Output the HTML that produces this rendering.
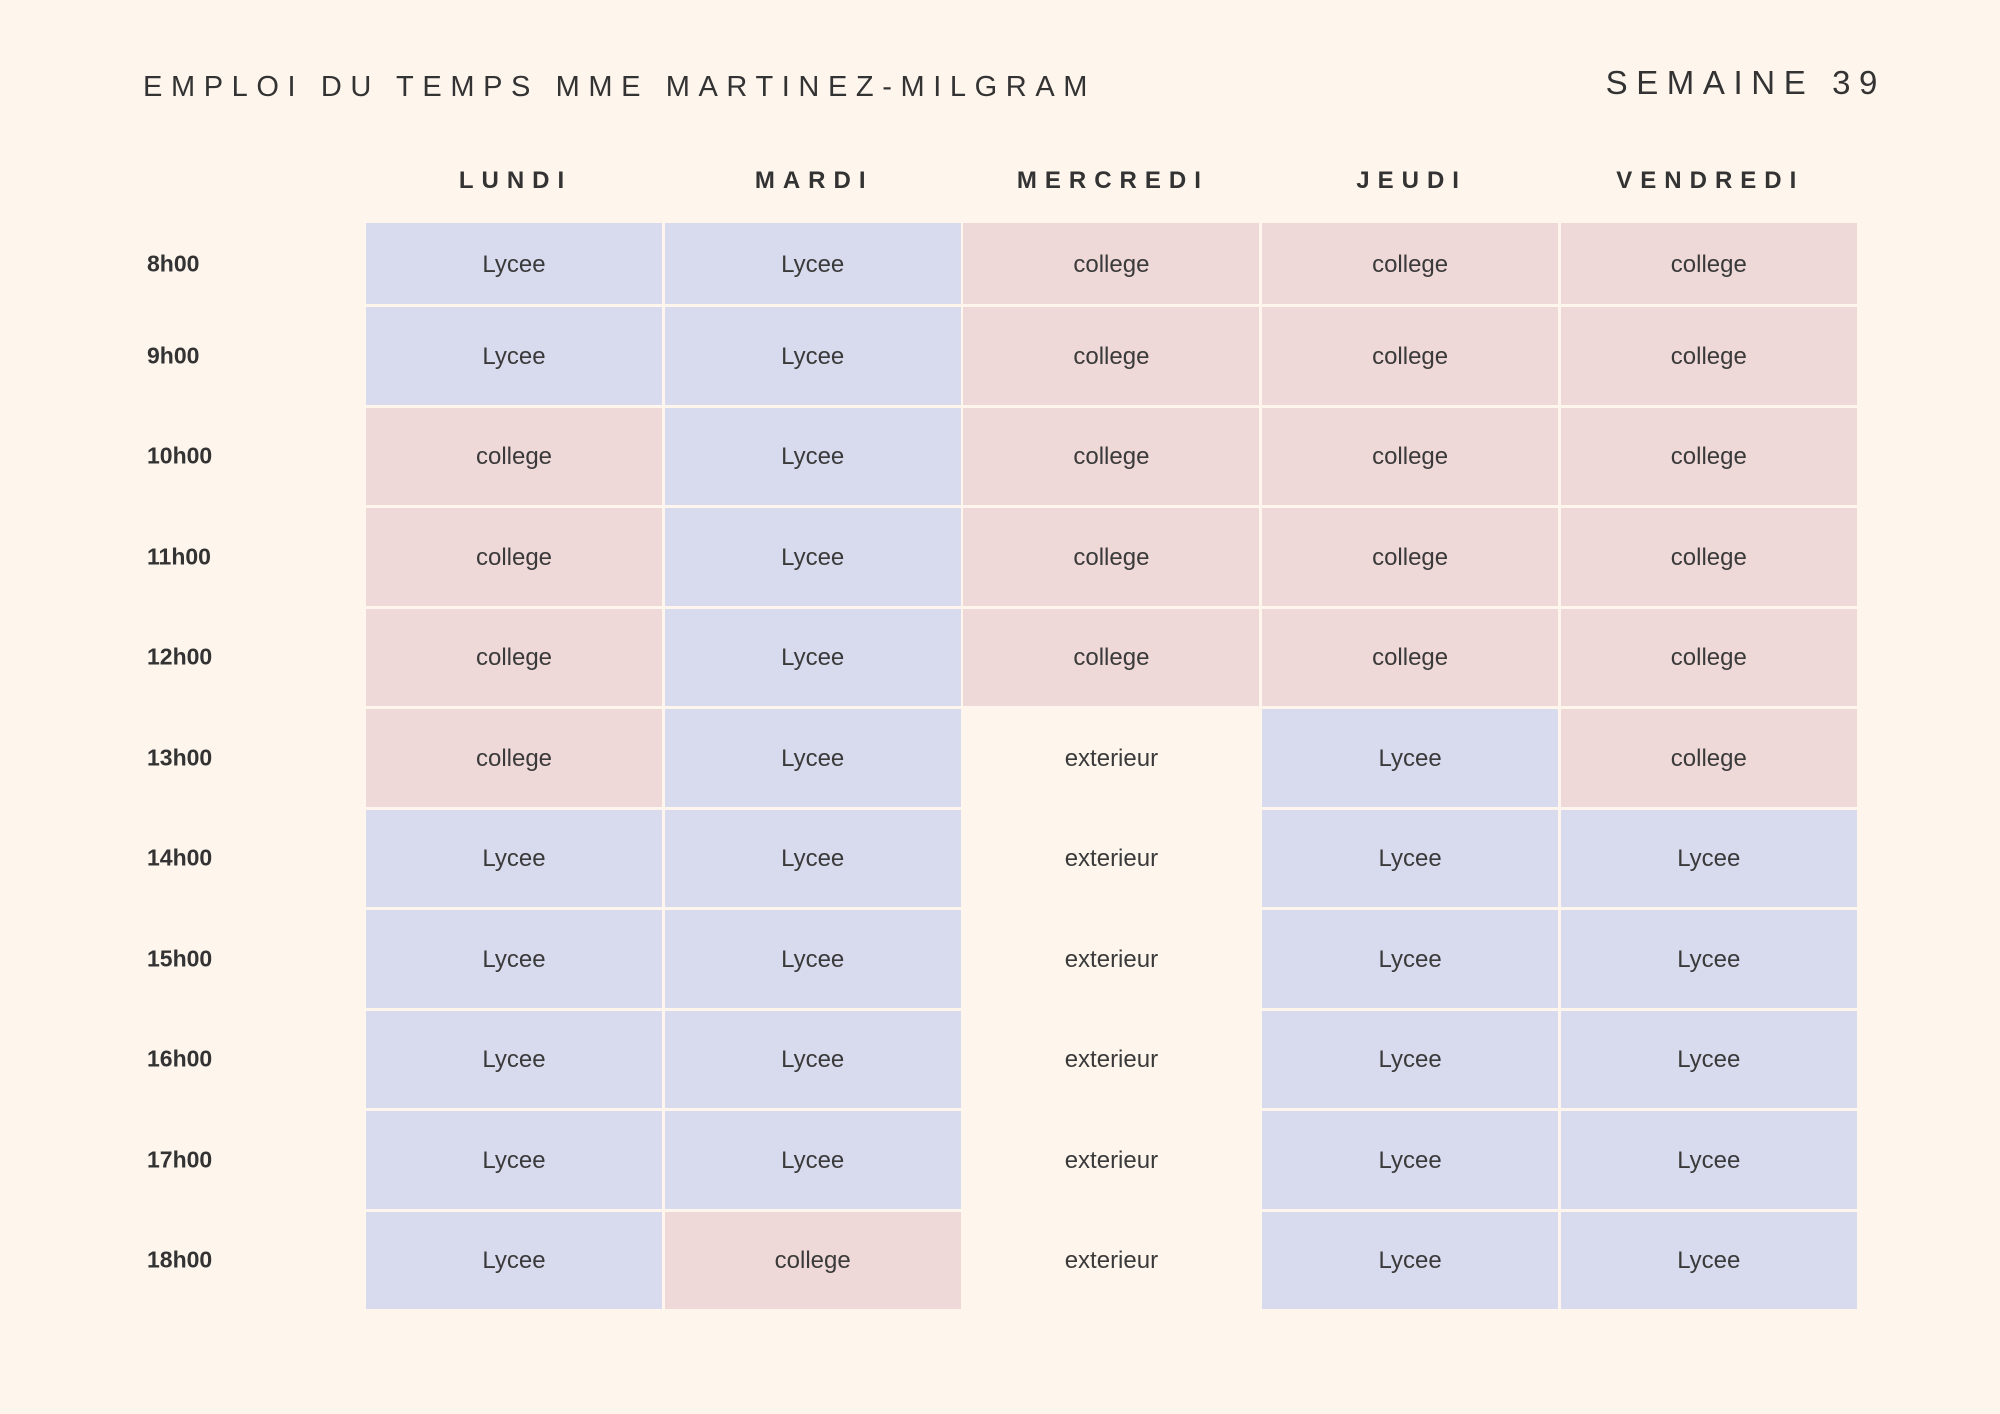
<!DOCTYPE html>
<html><head><meta charset="utf-8"><style>
*{margin:0;padding:0;box-sizing:border-box}
body{width:2000px;height:1414px;background:#fef5ed;position:relative;font-family:"Liberation Sans",sans-serif;color:#333;overflow:hidden}
.t{position:absolute;white-space:nowrap}
.title{left:143px;top:71px;font-size:29px;letter-spacing:8.6px}
.sem{right:114px;top:64px;font-size:33px;letter-spacing:8.6px}
.day{position:absolute;top:167px;width:299px;text-align:center;font-weight:bold;font-size:24px;letter-spacing:8px}
.time{position:absolute;left:147px;font-weight:bold;font-size:23px;transform:translateY(-50%)}
.c{position:absolute;width:296px;display:flex;align-items:center;justify-content:center;font-size:24px;color:#3a3a3a;padding-top:2px}
.L{background:#d8daee}.C{background:#efd8d8}
</style></head><body>
<div class="t title">EMPLOI DU TEMPS MME MARTINEZ-MILGRAM</div>
<div class="t sem">SEMAINE 39</div>
<div id="g"></div>
<script>
(function(){
var days=["LUNDI","MARDI","MERCREDI","JEUDI","VENDREDI"];
var data=["LLCCC","LLCCC","CLCCC","CLCCC","CLCCC","CLELC","LLELL","LLELL","LLELL","LLELL","LCELL"];
var h="";
for(var d=0;d<5;d++){h+='<div class="day" style="left:'+(366+d*298.7)+'px">'+days[d]+'</div>';}
for(var r=0;r<11;r++){
 var y0,ht;
 if(r==0){y0=223;ht=81;}else{y0=307+(r-1)*100.5;ht=97.5;}
 h+='<div class="time" style="top:'+(y0+ht/2)+'px">'+(r+8)+'h00</div>';
 for(var d=0;d<5;d++){
  var k=data[r][d];
  var txt=k=="L"?"Lycee":(k=="C"?"college":"exterieur");
  var cls=k=="E"?"":k;
  h+='<div class="c '+cls+'" style="left:'+(366+d*298.7)+'px;top:'+y0+'px;height:'+ht+'px">'+txt+'</div>';
 }
}
document.getElementById("g").innerHTML=h;
})();
</script>
</body></html>
